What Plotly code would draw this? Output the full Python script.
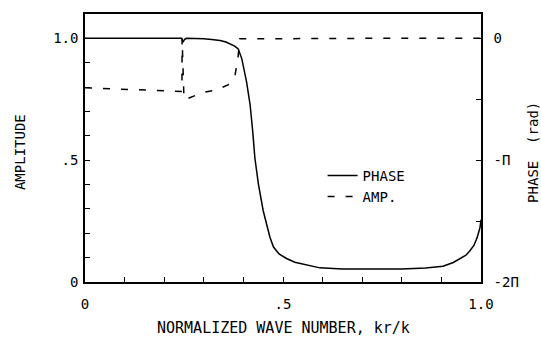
import numpy as np
import plotly.graph_objects as go

# Normalized wave number kr/k and phase (in units of pi)
phase_x = [0.0, 0.244, 0.2475, 0.251, 0.256, 0.28, 0.30, 0.32, 0.341, 0.356,
           0.366, 0.378, 0.387, 0.396, 0.408, 0.417, 0.4235, 0.429, 0.438,
           0.450, 0.467, 0.476, 0.490, 0.509, 0.530, 0.560, 0.593, 0.65,
           0.72, 0.80, 0.86, 0.904, 0.930, 0.947, 0.962, 0.972, 0.982,
           0.990, 0.9975, 1.0]
phase_pi = [0.0, 0.0, -0.032, -0.010, 0.0, 0.0, -0.004, -0.010, -0.018, -0.030,
            -0.046, -0.064, -0.087, -0.168, -0.358, -0.547, -0.764, -0.982, -1.198,
            -1.415, -1.632, -1.713, -1.770, -1.807, -1.838, -1.862, -1.884, -1.894,
            -1.896, -1.894, -1.886, -1.870, -1.840, -1.809, -1.780, -1.744, -1.700,
            -1.638, -1.553, -1.488]

# Amplitude
amp_x = [0.0, 0.114, 0.240, 0.2448, 0.2452, 0.250, 0.258, 0.298, 0.333, 0.361,
         0.374, 0.379, 0.386, 0.390, 0.391, 0.70, 1.0]
amp_y = [0.797, 0.790, 0.783, 0.782, 1.0, 0.749, 0.752, 0.778, 0.789, 0.809,
         0.835, 0.850, 0.916, 0.984, 0.998, 1.0, 1.0]

x_ticks = [round(0.1 * i, 1) for i in range(11)]
x_ticktext = ["0", "", "", "", "", ".5", "", "", "", "", "1.0"]
amp_ticks = [round(0.1 * i, 1) for i in range(11)]
amp_ticktext = ["0", "", "", "", "", ".5", "", "", "", "", "1.0"]
phase_ticks_pi = [-2.0, -1.5, -1.0, -0.5, 0.0]
phase_ticktext = ["-2\u03a0", "", "-\u03a0", "", "0"]

FONT = "DejaVu Sans Mono"
INK = "black"

fig = go.Figure()
fig.add_trace(go.Scatter(
    x=phase_x, y=np.pi * np.array(phase_pi), yaxis="y2", name="PHASE",
    mode="lines", line=dict(color=INK, width=1.5)))
fig.add_trace(go.Scatter(
    x=amp_x, y=amp_y, name="AMP.", mode="lines",
    line=dict(color=INK, width=1.5, dash="7px,11px")))

axis_common = dict(showgrid=False, zeroline=False, showline=True,
                   linecolor=INK, linewidth=1.5, ticks="inside", ticklen=5,
                   tickwidth=1.2, tickcolor=INK,
                   tickfont=dict(family=FONT, size=14, color=INK))

title_font = dict(family=FONT, size=14, color=INK)

fig.update_layout(
    width=541, height=342,
    margin=dict(l=85, r=60, t=12, b=60),
    paper_bgcolor="white", plot_bgcolor="white",
    showlegend=True,
    legend=dict(x=0.60, y=0.456, xanchor="left", yanchor="top",
                bgcolor="rgba(0,0,0,0)", borderwidth=0,
                font=dict(family=FONT, size=14, color=INK),
                tracegroupgap=0, itemwidth=30),
    xaxis=dict(range=[0, 1], tickvals=x_ticks, ticktext=x_ticktext,
               mirror=True, ticklabelstandoff=8, **axis_common),
    yaxis=dict(range=[0, 1.1], tickvals=amp_ticks, ticktext=amp_ticktext,
               ticklabelstandoff=2, **axis_common),
    yaxis2=dict(range=[-2 * np.pi, 0.2 * np.pi], overlaying="y", side="right",
                tickvals=[np.pi * v for v in phase_ticks_pi],
                ticktext=phase_ticktext, ticklabelstandoff=8, **axis_common),
    annotations=[
        dict(text="NORMALIZED WAVE NUMBER, kr/k", xref="paper", yref="paper",
             x=0.5, y=-0.170, xanchor="center", yanchor="middle",
             showarrow=False, font=dict(family=FONT, size=15, color=INK)),
        dict(text="AMPLITUDE", xref="paper", yref="paper", x=-0.164, y=0.485,
             xanchor="center", yanchor="middle", textangle=-90,
             showarrow=False, font=title_font),
        dict(text="PHASE  (rad)", xref="paper", yref="paper", x=1.131, y=0.485,
             xanchor="center", yanchor="middle", textangle=-90,
             showarrow=False, font=title_font),
    ],
)

fig.write_html("out.html")
